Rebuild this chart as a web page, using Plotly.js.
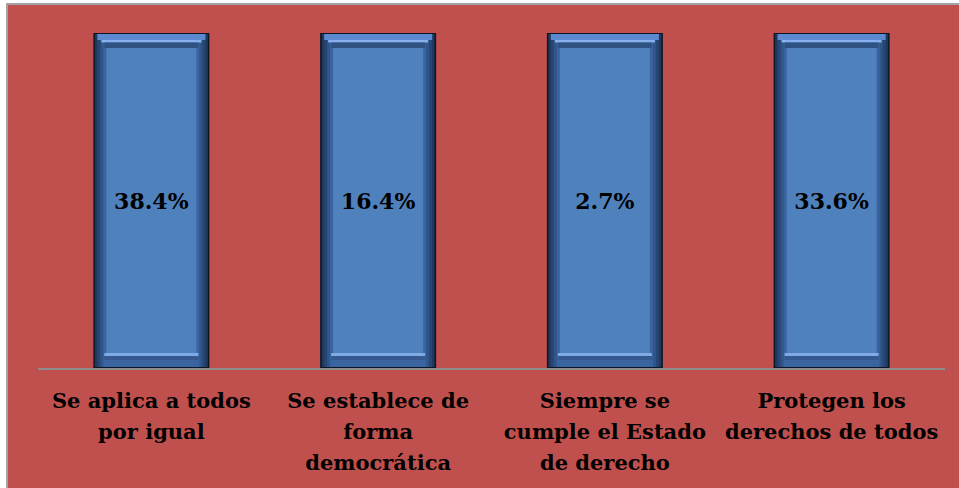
<!DOCTYPE html>
<html>
<head>
<meta charset="utf-8">
<script src="https://cdn.plot.ly/plotly-3.0.1.min.js"></script>
<style>
  html, body { margin: 0; padding: 0; background: #ffffff; width: 959px; height: 488px; overflow: hidden; }
  #wrap { position: absolute; left: 6px; top: 3px; width: 951px; height: 483px;
          border-left: 2px solid #a3a3a3; border-top: 2px solid #a3a3a3; background: #C0504D; }
  #chart { width: 951px; height: 483px; }
</style>
</head>
<body>
<div id="wrap"><div id="chart"></div></div>
<script>
// ---- data ----
const categories = [
  'Se aplica a todos<br>por igual',
  'Se establece de<br>forma<br>democrática',
  'Siempre se<br>cumple el Estado<br>de derecho',
  'Protegen los<br>derechos de todos'
];
const values = [38.4, 16.4, 2.7, 33.6];
const valueLabels = ['38.4%', '16.4%', '2.7%', '33.6%'];

// ---- layout constants ----
const W = 951, H = 483;
const M = { l: 30, r: 14, t: 28, b: 120 };
const Y_MAX = 2.5; // fixed axis maximum: taller bars are capped at the top
const plotW = W - M.l - M.r, plotH = H - M.t - M.b;
const pxPerCat = plotW / categories.length;
const pxPerUnit = plotH / Y_MAX;
const barPx = 116;

// bevel layers (outer -> inner). ix: side inset px; band from `t` px below bar top
// to `b` px above bar bottom, or a band of height h starting t px below top,
// or a band of height h ending b px above the bottom.
const layers = [
  { ix: 0,   t: 0,  b: 0,  color: '#0b1727' },
  { ix: 1.5, t: 1,  b: 1,  color: '#1f395e' },
  { ix: 4,   t: 1,  b: 1,  color: '#284672' },
  { ix: 7,   t: 1,  b: 1,  color: '#30558a' },
  { ix: 10,  t: 1,  b: 1,  color: '#3a64a0' },
  { ix: 4,   t: 1,  h: 6,  color: '#5b8ad0' },
  { ix: 8,   t: 7,  h: 2.5, color: '#86b1ec' },
  { ix: 11,  t: 9.5, h: 5.5, color: '#2f5283' },
  { ix: 11,  b: 12, h: 3,  color: '#7eaae6' },
  { ix: 11,  b: 8,  h: 4,  color: '#33598f' },
  { ix: 13,  t: 15, b: 15, color: '#4F81BD', text: true }
];

function bandRows(L, barH) {
  // returns [fromBottomPx, toBottomPx]
  if (L.h === undefined) return [L.b, barH - L.t];
  if (L.t !== undefined) return [barH - L.t - L.h, barH - L.t];
  return [L.b, L.b + L.h];
}

const traces = layers.map(L => {
  const rows = values.map(v => bandRows(L, Math.min(v, Y_MAX) * pxPerUnit));
  const t = {
    type: 'bar',
    x: categories,
    base: rows.map(r => r[0] / pxPerUnit),
    y: rows.map(r => (r[1] - r[0]) / pxPerUnit),
    width: (barPx - 2 * L.ix) / pxPerCat,
    marker: { color: L.color, line: { width: 0 } },
    hoverinfo: 'skip',
    showlegend: false
  };
  if (L.text) {
    t.text = valueLabels;
    t.textposition = 'inside';
    t.insidetextanchor = 'middle';
    t.constraintext = 'none';
    t.textangle = 0;
    t.textfont = { family: 'DejaVu Serif, serif', size: 22, color: '#000000', weight: 'bold' };
  } else {
    t.textposition = 'none';
  }
  return t;
});

const tickText = categories.map(c =>
  c.split('<br>').map(s => '<span style="font-size:21px">' + s + '</span>').join('<br>')
);

const layout = {
  width: W, height: H,
  margin: M,
  paper_bgcolor: 'rgba(0,0,0,0)',
  plot_bgcolor: 'rgba(0,0,0,0)',
  barmode: 'overlay',
  showlegend: false,
  hovermode: false,
  xaxis: {
    type: 'category',
    tickvals: categories,
    ticktext: tickText,
    showline: true, linecolor: '#8c8c8c', linewidth: 2,
    showgrid: false, zeroline: false, ticks: '',
    ticklabelstandoff: 9,
    tickfont: { family: 'DejaVu Serif, serif', size: 24, color: '#000000', weight: 'bold' },
    automargin: false
  },
  yaxis: {
    range: [0, Y_MAX],
    showgrid: false, zeroline: false, showticklabels: false, showline: false, ticks: '',
    fixedrange: true
  }
};

Plotly.newPlot('chart', traces, layout, { displayModeBar: false, staticPlot: true });
</script>
</body>
</html>
